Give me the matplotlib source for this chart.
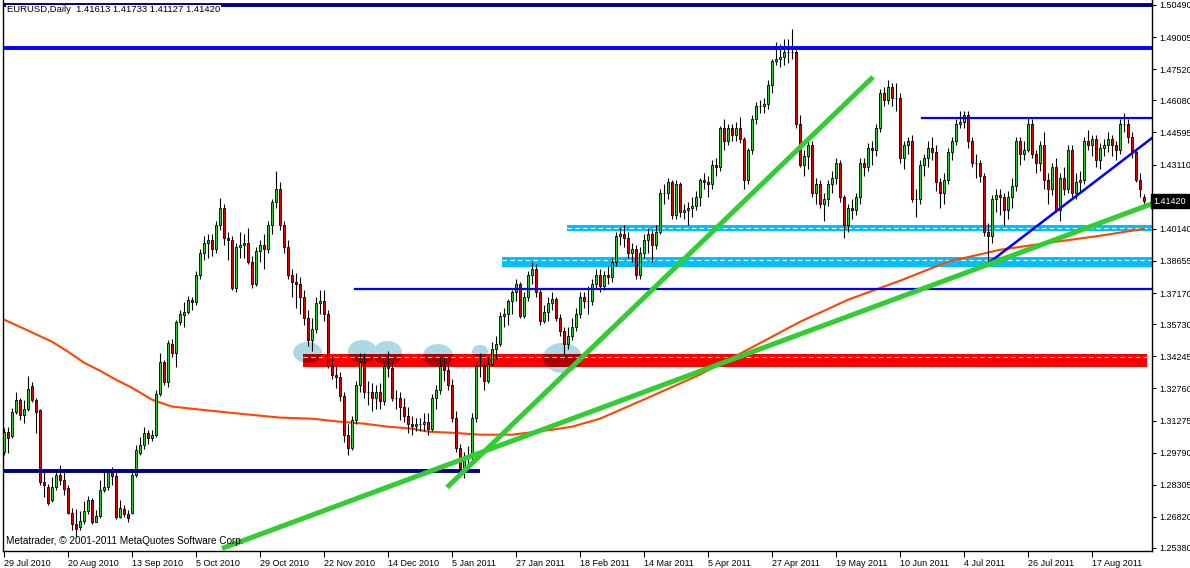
import matplotlib
matplotlib.use("Agg")
import matplotlib.pyplot as plt
from matplotlib.patches import Rectangle, Ellipse

# ---------------- data ----------------
date_labels = ["29 Jul 2010", "20 Aug 2010", "13 Sep 2010", "5 Oct 2010", "29 Oct 2010",
               "22 Nov 2010", "14 Dec 2010", "5 Jan 2011", "27 Jan 2011", "18 Feb 2011",
               "14 Mar 2011", "5 Apr 2011", "27 Apr 2011", "19 May 2011", "10 Jun 2011",
               "4 Jul 2011", "26 Jul 2011", "17 Aug 2011"]
date_bars = [0, 16, 32, 48, 64, 80, 96, 112, 128, 144, 160, 176, 192, 208, 224, 240, 256, 272]

price_ticks = [1.50490, 1.49005, 1.47520, 1.46080, 1.44595, 1.43110, 1.41625, 1.40140,
               1.38655, 1.37170, 1.35730, 1.34245, 1.32760, 1.31275, 1.29790, 1.28305,
               1.26820, 1.25380]

opens = [1.2984, 1.3076, 1.3058, 1.3169, 1.3224, 1.3155, 1.3182, 1.3289, 1.3224, 1.3178,
         1.2841, 1.2822, 1.2762, 1.2822, 1.2877, 1.2854, 1.2817, 1.2702, 1.2647, 1.2633,
         1.2665, 1.2711, 1.2762, 1.2660, 1.2688, 1.2804, 1.2822, 1.2891, 1.2873, 1.2683,
         1.2720, 1.2697, 1.2702, 1.2877, 1.2979, 1.3012, 1.3071, 1.3048, 1.3062, 1.3252,
         1.3400, 1.3307, 1.3483, 1.3441, 1.3584, 1.3617, 1.3631, 1.3686, 1.3675, 1.3800,
         1.3900, 1.3950, 1.3960, 1.3920, 1.4030, 1.4110, 1.3970, 1.3960, 1.3740, 1.3930,
         1.3940, 1.3950, 1.3860, 1.3760, 1.3910, 1.3940, 1.3920, 1.4030, 1.4140, 1.4200,
         1.4030, 1.3930, 1.3800, 1.3770, 1.3760, 1.3700, 1.3600, 1.3500, 1.3550, 1.3670,
         1.3680, 1.3620, 1.3380, 1.3340, 1.3330, 1.3240, 1.3060, 1.3000, 1.3130, 1.3290,
         1.3400, 1.3260, 1.3260, 1.3230, 1.3260, 1.3220, 1.3380, 1.3370, 1.3230, 1.3230,
         1.3190, 1.3150, 1.3110, 1.3100, 1.3110, 1.3110, 1.3120, 1.3090, 1.3230, 1.3270,
         1.3380, 1.3360, 1.3290, 1.3140, 1.3000, 1.2910, 1.2960, 1.2970, 1.3140, 1.3380,
         1.3380, 1.3310, 1.3390, 1.3460, 1.3480, 1.3610, 1.3620, 1.3680, 1.3720, 1.3760,
         1.3610, 1.3700, 1.3800, 1.3830, 1.3720, 1.3590, 1.3630, 1.3670, 1.3690, 1.3600,
         1.3540, 1.3480, 1.3520, 1.3560, 1.3620, 1.3700, 1.3680, 1.3680, 1.3760, 1.3800,
         1.3750, 1.3800, 1.3790, 1.3860, 1.3980, 1.3990, 1.3970, 1.3900, 1.3920, 1.3800,
         1.3900, 1.3960, 1.3990, 1.3940, 1.4000, 1.4180, 1.4180, 1.4230, 1.4080, 1.4220,
         1.4090, 1.4100, 1.4110, 1.4120, 1.4160, 1.4240, 1.4230, 1.4220, 1.4310, 1.4300,
         1.4480, 1.4420, 1.4480, 1.4450, 1.4480, 1.4430, 1.4240, 1.4380, 1.4520, 1.4580,
         1.4580, 1.4590, 1.4680, 1.4790, 1.4800, 1.4810, 1.4830, 1.4830, 1.4830, 1.4500,
         1.4310, 1.4350, 1.4400, 1.4180, 1.4220, 1.4130, 1.4150, 1.4220, 1.4250, 1.4320,
         1.4160, 1.4030, 1.4110, 1.4100, 1.4160, 1.4320, 1.4300, 1.4390, 1.4380, 1.4480,
         1.4640, 1.4610, 1.4670, 1.4620, 1.4620, 1.4340, 1.4400, 1.4420, 1.4150, 1.4150,
         1.4310, 1.4340, 1.4390, 1.4370, 1.4230, 1.4180, 1.4240, 1.4370, 1.4420, 1.4500,
         1.4510, 1.4540, 1.4420, 1.4320, 1.4320, 1.4260, 1.4000, 1.3980, 1.4150, 1.4170,
         1.4160, 1.4100, 1.4160, 1.4210, 1.4420, 1.4360, 1.4380, 1.4500, 1.4360, 1.4320,
         1.4400, 1.4240, 1.4200, 1.4300, 1.4100, 1.4250, 1.4200, 1.4380, 1.4180, 1.4230,
         1.4240, 1.4420, 1.4400, 1.4430, 1.4330, 1.4390, 1.4400, 1.4430, 1.4400, 1.4380,
         1.4500, 1.4500, 1.4440, 1.4370, 1.4240, 1.41613]
highs = [1.3095, 1.3099, 1.3187, 1.3261, 1.3233, 1.3224, 1.3335, 1.3307, 1.3233, 1.3182,
         1.2901, 1.2836, 1.2864, 1.2901, 1.2924, 1.2901, 1.2827, 1.2725, 1.2720, 1.2707,
         1.2757, 1.2780, 1.2771, 1.2716, 1.2854, 1.2901, 1.2905, 1.2914, 1.2901, 1.2762,
         1.2739, 1.2716, 1.2901, 1.3016, 1.3053, 1.3099, 1.3085, 1.3085, 1.3270, 1.3441,
         1.3409, 1.3501, 1.3506, 1.3594, 1.3640, 1.3677, 1.3705, 1.3700, 1.3820, 1.3920,
         1.3980, 1.3990, 1.3990, 1.4050, 1.4157, 1.4130, 1.4000, 1.3980, 1.3950, 1.4000,
         1.3990, 1.4020, 1.3890, 1.3930, 1.3960, 1.3990, 1.4050, 1.4150, 1.4280, 1.4230,
         1.4050, 1.3960, 1.3830, 1.3810, 1.3790, 1.3730, 1.3640, 1.3600, 1.3700, 1.3730,
         1.3730, 1.3640, 1.3420, 1.3380, 1.3350, 1.3260, 1.3110, 1.3150, 1.3310, 1.3440,
         1.3440, 1.3310, 1.3300, 1.3290, 1.3300, 1.3400, 1.3450, 1.3400, 1.3270, 1.3260,
         1.3230, 1.3190, 1.3150, 1.3140, 1.3140, 1.3160, 1.3160, 1.3250, 1.3290, 1.3420,
         1.3420, 1.3390, 1.3320, 1.3170, 1.3020, 1.2980, 1.3010, 1.3160, 1.3400, 1.3440,
         1.3400, 1.3420, 1.3490, 1.3520, 1.3630, 1.3650, 1.3690, 1.3730, 1.3780, 1.3770,
         1.3720, 1.3820, 1.3860, 1.3850, 1.3740, 1.3660, 1.3700, 1.3720, 1.3700, 1.3620,
         1.3560, 1.3560, 1.3600, 1.3650, 1.3720, 1.3720, 1.3750, 1.3780, 1.3830, 1.3830,
         1.3820, 1.3840, 1.3880, 1.4000, 1.4020, 1.4030, 1.4000, 1.3950, 1.3940, 1.3930,
         1.3990, 1.4020, 1.4010, 1.4030, 1.4200, 1.4220, 1.4250, 1.4240, 1.4240, 1.4230,
         1.4130, 1.4140, 1.4160, 1.4190, 1.4250, 1.4270, 1.4260, 1.4330, 1.4340, 1.4490,
         1.4520, 1.4500, 1.4500, 1.4510, 1.4530, 1.4440, 1.4390, 1.4540, 1.4600, 1.4610,
         1.4620, 1.4700, 1.4800, 1.4880, 1.4870, 1.4890, 1.4890, 1.4940, 1.4840, 1.4540,
         1.4380, 1.4420, 1.4420, 1.4250, 1.4240, 1.4180, 1.4240, 1.4280, 1.4340, 1.4330,
         1.4170, 1.4130, 1.4150, 1.4180, 1.4340, 1.4340, 1.4410, 1.4420, 1.4500, 1.4660,
         1.4670, 1.4700, 1.4690, 1.4690, 1.4640, 1.4420, 1.4440, 1.4450, 1.4200, 1.4330,
         1.4360, 1.4420, 1.4440, 1.4400, 1.4250, 1.4270, 1.4390, 1.4440, 1.4520, 1.4560,
         1.4560, 1.4560, 1.4440, 1.4360, 1.4330, 1.4270, 1.4040, 1.4170, 1.4200, 1.4200,
         1.4180, 1.4190, 1.4250, 1.4440, 1.4440, 1.4420, 1.4530, 1.4520, 1.4380, 1.4420,
         1.4460, 1.4270, 1.4320, 1.4340, 1.4270, 1.4300, 1.4400, 1.4400, 1.4270, 1.4280,
         1.4440, 1.4470, 1.4450, 1.4450, 1.4410, 1.4430, 1.4460, 1.4450, 1.4420, 1.4520,
         1.4550, 1.4520, 1.4460, 1.4390, 1.4270, 1.41733]
lows = [1.2970, 1.2979, 1.3048, 1.3159, 1.3132, 1.3118, 1.3173, 1.3215, 1.3071, 1.2827,
        1.2776, 1.2739, 1.2753, 1.2808, 1.2831, 1.2785, 1.2693, 1.2623, 1.2591, 1.2623,
        1.2651, 1.2697, 1.2651, 1.2656, 1.2679, 1.2799, 1.2808, 1.2831, 1.2670, 1.2679,
        1.2683, 1.2656, 1.2693, 1.2864, 1.2970, 1.2998, 1.3021, 1.3035, 1.3053, 1.3243,
        1.3293, 1.3284, 1.3423, 1.3377, 1.3570, 1.3561, 1.3621, 1.3640, 1.3660, 1.3780,
        1.3870, 1.3880, 1.3890, 1.3900, 1.4010, 1.3940, 1.3870, 1.3730, 1.3720, 1.3880,
        1.3880, 1.3850, 1.3740, 1.3750, 1.3860, 1.3830, 1.3900, 1.3990, 1.4110, 1.4010,
        1.3900, 1.3780, 1.3700, 1.3650, 1.3620, 1.3570, 1.3470, 1.3450, 1.3530, 1.3620,
        1.3590, 1.3370, 1.3320, 1.3280, 1.3220, 1.3030, 1.2970, 1.2990, 1.3110, 1.3260,
        1.3230, 1.3200, 1.3170, 1.3180, 1.3180, 1.3200, 1.3330, 1.3220, 1.3180, 1.3130,
        1.3120, 1.3070, 1.3060, 1.3080, 1.3080, 1.3080, 1.3060, 1.3080, 1.3180, 1.3250,
        1.3310, 1.3270, 1.3120, 1.2980, 1.2900, 1.2860, 1.2900, 1.2950, 1.3120, 1.3330,
        1.3270, 1.3300, 1.3380, 1.3410, 1.3470, 1.3560, 1.3570, 1.3620, 1.3680, 1.3600,
        1.3600, 1.3680, 1.3760, 1.3700, 1.3570, 1.3580, 1.3590, 1.3640, 1.3590, 1.3520,
        1.3430, 1.3460, 1.3500, 1.3540, 1.3600, 1.3650, 1.3620, 1.3660, 1.3740, 1.3720,
        1.3730, 1.3760, 1.3770, 1.3840, 1.3940, 1.3930, 1.3880, 1.3860, 1.3780, 1.3780,
        1.3880, 1.3900, 1.3860, 1.3920, 1.3990, 1.4130, 1.4150, 1.4060, 1.4060, 1.4070,
        1.4060, 1.4030, 1.4070, 1.4100, 1.4120, 1.4200, 1.4160, 1.4200, 1.4260, 1.4280,
        1.4380, 1.4400, 1.4420, 1.4420, 1.4410, 1.4200, 1.4220, 1.4360, 1.4500, 1.4550,
        1.4550, 1.4570, 1.4640, 1.4770, 1.4760, 1.4770, 1.4780, 1.4800, 1.4480, 1.4300,
        1.4260, 1.4290, 1.4160, 1.4130, 1.4110, 1.4050, 1.4120, 1.4180, 1.4220, 1.4140,
        1.3970, 1.4000, 1.4060, 1.4080, 1.4130, 1.4260, 1.4280, 1.4310, 1.4350, 1.4460,
        1.4580, 1.4590, 1.4580, 1.4560, 1.4320, 1.4290, 1.4360, 1.4140, 1.4070, 1.4130,
        1.4260, 1.4300, 1.4330, 1.4190, 1.4110, 1.4130, 1.4220, 1.4330, 1.4400, 1.4480,
        1.4480, 1.4390, 1.4300, 1.4250, 1.4230, 1.3980, 1.3840, 1.3950, 1.4090, 1.4080,
        1.4030, 1.4060, 1.4110, 1.4190, 1.4310, 1.4330, 1.4370, 1.4340, 1.4270, 1.4280,
        1.4200, 1.4130, 1.4170, 1.4090, 1.4050, 1.4170, 1.4180, 1.4160, 1.4150, 1.4180,
        1.4220, 1.4380, 1.4350, 1.4300, 1.4290, 1.4350, 1.4370, 1.4350, 1.4330, 1.4360,
        1.4460, 1.4410, 1.4340, 1.4230, 1.4160, 1.41127]
closes = [1.3076, 1.3048, 1.3169, 1.3224, 1.3155, 1.3182, 1.3275, 1.3224, 1.3169, 1.2841,
          1.2827, 1.2748, 1.2822, 1.2877, 1.2854, 1.2813, 1.2702, 1.2647, 1.2628, 1.2665,
          1.2711, 1.2762, 1.2660, 1.2688, 1.2804, 1.2822, 1.2891, 1.2873, 1.2683, 1.2725,
          1.2697, 1.2679, 1.2877, 1.2989, 1.3012, 1.3071, 1.3048, 1.3062, 1.3252, 1.3400,
          1.3307, 1.3487, 1.3441, 1.3584, 1.3621, 1.3631, 1.3686, 1.3675, 1.3800, 1.3900,
          1.3950, 1.3960, 1.3920, 1.4030, 1.4110, 1.3970, 1.3960, 1.3740, 1.3930, 1.3940,
          1.3950, 1.3860, 1.3760, 1.3910, 1.3940, 1.3920, 1.4030, 1.4140, 1.4200, 1.4030,
          1.3930, 1.3800, 1.3770, 1.3760, 1.3700, 1.3600, 1.3500, 1.3550, 1.3670, 1.3680,
          1.3620, 1.3380, 1.3340, 1.3330, 1.3240, 1.3060, 1.3000, 1.3130, 1.3290, 1.3400,
          1.3260, 1.3260, 1.3230, 1.3260, 1.3220, 1.3380, 1.3370, 1.3230, 1.3230, 1.3190,
          1.3150, 1.3110, 1.3100, 1.3110, 1.3110, 1.3120, 1.3090, 1.3230, 1.3270, 1.3380,
          1.3360, 1.3290, 1.3140, 1.3000, 1.2910, 1.2960, 1.2970, 1.3140, 1.3380, 1.3380,
          1.3310, 1.3390, 1.3460, 1.3480, 1.3610, 1.3620, 1.3680, 1.3720, 1.3760, 1.3610,
          1.3700, 1.3800, 1.3830, 1.3720, 1.3590, 1.3630, 1.3670, 1.3690, 1.3600, 1.3540,
          1.3480, 1.3520, 1.3560, 1.3620, 1.3700, 1.3680, 1.3680, 1.3760, 1.3800, 1.3750,
          1.3800, 1.3790, 1.3860, 1.3980, 1.3990, 1.3970, 1.3900, 1.3920, 1.3800, 1.3900,
          1.3960, 1.3990, 1.3940, 1.4000, 1.4180, 1.4180, 1.4230, 1.4080, 1.4220, 1.4090,
          1.4100, 1.4110, 1.4120, 1.4160, 1.4240, 1.4230, 1.4220, 1.4310, 1.4300, 1.4480,
          1.4420, 1.4480, 1.4450, 1.4480, 1.4430, 1.4240, 1.4380, 1.4520, 1.4580, 1.4580,
          1.4590, 1.4680, 1.4790, 1.4800, 1.4810, 1.4830, 1.4830, 1.4830, 1.4500, 1.4310,
          1.4350, 1.4400, 1.4180, 1.4220, 1.4130, 1.4150, 1.4220, 1.4250, 1.4320, 1.4160,
          1.4030, 1.4110, 1.4100, 1.4160, 1.4320, 1.4300, 1.4390, 1.4380, 1.4480, 1.4640,
          1.4610, 1.4670, 1.4620, 1.4620, 1.4340, 1.4400, 1.4420, 1.4150, 1.4150, 1.4310,
          1.4340, 1.4390, 1.4370, 1.4230, 1.4180, 1.4240, 1.4370, 1.4420, 1.4500, 1.4510,
          1.4540, 1.4420, 1.4320, 1.4320, 1.4260, 1.4000, 1.3980, 1.4150, 1.4170, 1.4160,
          1.4100, 1.4160, 1.4210, 1.4420, 1.4360, 1.4380, 1.4500, 1.4360, 1.4320, 1.4400,
          1.4240, 1.4200, 1.4300, 1.4100, 1.4250, 1.4200, 1.4380, 1.4180, 1.4230, 1.4240,
          1.4420, 1.4400, 1.4430, 1.4330, 1.4390, 1.4400, 1.4430, 1.4400, 1.4380, 1.4500,
          1.4500, 1.4440, 1.4370, 1.4240, 1.4200, 1.41420]

# moving average line (vertices)
ma_bars = [0, 5, 12, 16, 20, 24, 28, 32, 37, 42, 49, 59, 69, 77, 84, 90, 96, 102, 106,
           112, 119, 127, 131, 137, 142, 149, 161, 174, 186, 199, 211, 224, 236, 249, 261,
           274, 285]
ma_vals = [1.3594, 1.3552, 1.3492, 1.3446, 1.3395, 1.3358, 1.3316, 1.3279, 1.3224, 1.3192,
           1.3178, 1.3159, 1.3141, 1.3136, 1.3122, 1.3113, 1.3099, 1.3090, 1.3076, 1.3071,
           1.3062, 1.3062, 1.3071, 1.3085, 1.3099, 1.3136, 1.3233, 1.3340, 1.3456, 1.3584,
           1.3686, 1.3774, 1.3862, 1.3917, 1.3949, 1.3982, 1.4014]

# horizontal objects: (price, start bar, end bar)
navy_top = (1.5051, -1, 288)
blue_top = (1.4850, -1, 288)
blue_res = (1.4527, 229.5, 288)
blue_mid = (1.3737, 87.75, 288)
navy_low = (1.2894, -1, 119)
# bands: (low price, high price, start bar, end bar, dashed-line price)
cyan_band1 = (1.4005, 1.4032, 140.75, 288, 1.4018)
cyan_band2 = (1.3838, 1.3884, 124.5, 288, 1.3870)
red_band = (1.3375, 1.3435, 74.75, 285.75, 1.3421)
# trend lines: ((bar, price), (bar, price))
green_steep = ((110.75, 1.2818), (217.25, 1.4716))
green_long = ((54.5, 1.2536), (287.0, 1.4130))
blue_diag = ((245.25, 1.3843), (287.0, 1.4434))
# highlight ellipses: (center bar, center price, width bars, height price)
ellipses = [(75.9, 1.3442, 7.25, 0.0097), (89.6, 1.3447, 7.25, 0.0106),
            (95.9, 1.3440, 7.25, 0.0111), (108.5, 1.3428, 7.5, 0.0106),
            (119.0, 1.3447, 4.0, 0.0060), (139.6, 1.3417, 9.75, 0.0139)]

title = "EURUSD,Daily  1.41613 1.41733 1.41127 1.41420"
copyright_text = "Metatrader, \u00a9 2001-2011 MetaQuotes Software Corp."
last_price = 1.41420

# ---------------- drawing ----------------
FONT = "Liberation Sans"
W, H = 1190, 568
fig = plt.figure(figsize=(W / 100, H / 100), dpi=100)
fig.patch.set_facecolor("white")
ax = fig.add_axes([3 / W, 17 / H, 1149 / W, 551 / H])
ax.set_facecolor("white")
ax.set_xlim(-0.25, 287)
ax.set_ylim(1.25241, 1.50721)

UP = "#32CD32"
DOWN = "#E00000"
CYAN = "#00BFFF"

# bands (background)
for lo, hi, b0, b1, dash in (cyan_band1, cyan_band2):
    ax.add_patch(Rectangle((b0, lo), b1 - b0, hi - lo, facecolor=CYAN, edgecolor="none", zorder=1))
    ax.plot([b0, b1], [dash, dash], color="white", lw=0.8, ls=(0, (4, 3)), zorder=1.2)

lo, hi, b0, b1, dash = red_band
red_rect = Rectangle((b0, lo), b1 - b0, hi - lo, facecolor="#FF0000", edgecolor="none", zorder=1.1)
ax.add_patch(red_rect)
for cx, cy, ew, eh in ellipses:
    ax.add_patch(Ellipse((cx, cy), ew, eh, facecolor="#ADD8E6", edgecolor="none", zorder=1.0))
    e2 = Ellipse((cx, cy), ew, eh, facecolor="#AD0000", edgecolor="none", zorder=1.15)
    ax.add_patch(e2)
    e2.set_clip_path(red_rect)
ax.plot([b0, b1], [dash, dash], color="white", lw=0.8, ls=(0, (4, 3)), zorder=1.2)

# moving average
ax.plot(ma_bars, ma_vals, color="#FF4500", lw=1.5, zorder=2)

# candles
n = len(closes)
xs = list(range(n))
ax.vlines(xs, lows, highs, color="black", lw=0.8, zorder=3)
for i in range(n):
    o, c = opens[i], closes[i]
    col = UP if c >= o else DOWN
    ax.add_patch(Rectangle((i - 0.3, min(o, c)), 0.6, abs(c - o), facecolor=col,
                           edgecolor="black", lw=0.6, zorder=3.5))

# lines
for p, b0, b1 in (navy_top, navy_low):
    ax.plot([b0, b1], [p, p], color="#000080", lw=2.8, zorder=4, solid_capstyle="butt")
ax.plot([blue_top[1], blue_top[2]], [blue_top[0]] * 2, color="#0000FF", lw=2.8, zorder=4)
for p, b0, b1 in (blue_res, blue_mid):
    ax.plot([b0, b1], [p, p], color="#0000FF", lw=1.6, zorder=4)
(x0, y0), (x1, y1) = blue_diag
ax.plot([x0, x1], [y0, y1], color="#0000FF", lw=1.8, zorder=4)
for (x0, y0), (x1, y1) in (green_steep, green_long):
    ax.plot([x0, x1], [y0, y1], color="#32CD32", lw=3.6, zorder=4.2, solid_capstyle="butt")

# axes styling
for s in ("left", "bottom", "right"):
    ax.spines[s].set_color("black")
    ax.spines[s].set_linewidth(1.0)
ax.spines["top"].set_visible(False)
ax.yaxis.tick_right()
ax.set_yticks(price_ticks)
ax.set_yticklabels([f"{v:.5f}" for v in price_ticks], fontsize=6.5, family=FONT)
ax.tick_params(axis="y", direction="out", length=3, width=0.8, pad=2, colors="black")
ax.set_xticks(date_bars)
ax.set_xticklabels(date_labels, fontsize=6.5, family=FONT, ha="left")
ax.tick_params(axis="x", direction="out", length=4, width=0.8, pad=2)

# current price marker (covers the tick label below it, as in the terminal)
ax.text(1.0015, last_price, f"{last_price:.5f}", transform=ax.get_yaxis_transform(),
        fontsize=6.5, family=FONT, color="white", va="center", ha="left",
        bbox=dict(boxstyle="square,pad=0.3", facecolor="black", edgecolor="black"), zorder=10,
        clip_on=False)

fig.text(7 / W, 1 - 10 / H, title, fontsize=6.8, family=FONT, va="center", ha="left",
         bbox=dict(boxstyle="square,pad=0.1", facecolor="white", edgecolor="none"))
fig.text(6 / W, 1 - 541 / H, copyright_text, fontsize=7.2, family=FONT, va="center", ha="left")

fig.savefig("out.png", dpi=100, facecolor="white")
